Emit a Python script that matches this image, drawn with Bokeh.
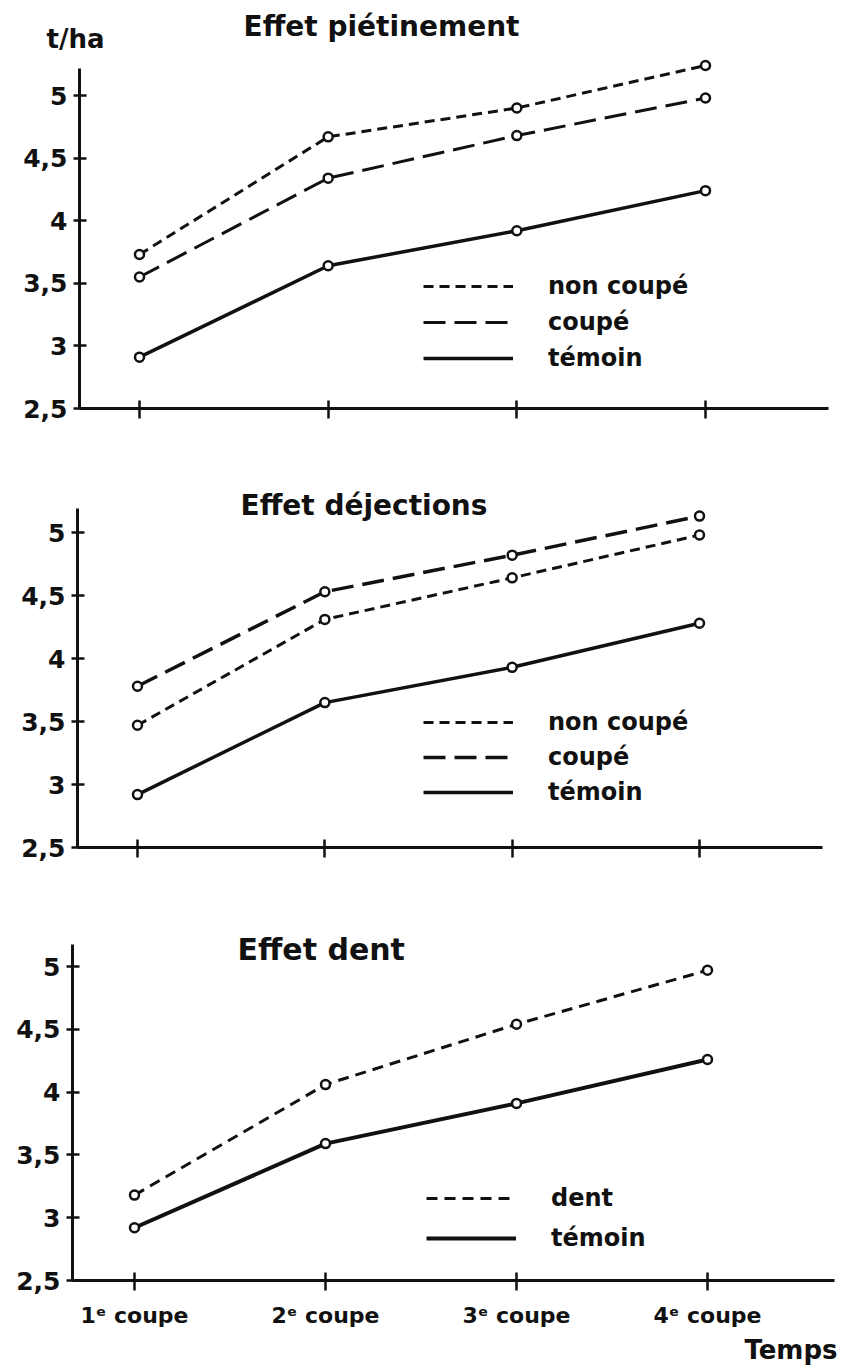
from bokeh.plotting import figure
from bokeh.models import (Range1d, FixedTicker, Legend, LegendItem, Label,
                          CustomLabelingPolicy)
from bokeh.layouts import column
from bokeh.embed import file_html
from bokeh.resources import INLINE

# ---------------- data ----------------
categories = ["1ᵉ coupe", "2ᵉ coupe", "3ᵉ coupe", "4ᵉ coupe"]
y_ticks = [2.5, 3, 3.5, 4, 4.5, 5]
y_tick_labels = ["2,5", "3", "3,5", "4", "4,5", "5"]

pietinement_non_coupe = [3.73, 4.67, 4.90, 5.24]
pietinement_coupe = [3.55, 4.34, 4.68, 4.98]
pietinement_temoin = [2.91, 3.64, 3.92, 4.24]

dejections_non_coupe = [3.47, 4.31, 4.64, 4.98]
dejections_coupe = [3.78, 4.53, 4.82, 5.13]
dejections_temoin = [2.92, 3.65, 3.93, 4.28]

dent_dent = [3.18, 4.06, 4.54, 4.97]
dent_temoin = [2.92, 3.59, 3.91, 4.26]

# ---------------- styling ----------------
FONT = "DejaVu Sans"
INK = "#111111"
SHORT_DASH = "10 6"
LONG_DASH = "22 9"
W = 841
xs = list(range(1, len(categories) + 1))


def make_panel(fig_top, height, axis_left, axis_right, tick1, tick4,
               y_low, y_high, axis_top, show_labels):
    """Pixel geometry (page coords) -> data ranges; axes drawn at fixed locations."""
    sx = (tick4 - tick1) / (xs[-1] - xs[0])
    sy = (y_low - y_high) / (y_ticks[-1] - y_ticks[0])
    fx = lambda px: xs[0] + (px - tick1) / sx
    fy = lambda py: y_ticks[0] + (y_low - py) / sy

    p = figure(
        width=W, height=height,
        x_range=Range1d(fx(0), fx(W)),
        y_range=Range1d(fy(fig_top + height), fy(fig_top)),
        output_backend="svg", toolbar_location=None, title=None,
        min_border=0, min_border_left=0, min_border_right=0,
        min_border_top=0, min_border_bottom=0,
    )
    p.outline_line_color = None
    p.background_fill_color = "white"
    p.border_fill_color = "white"
    p.xgrid.grid_line_color = None
    p.ygrid.grid_line_color = None

    ya = p.yaxis[0]
    ya.fixed_location = fx(axis_left)
    ya.bounds = (y_ticks[0], fy(axis_top))
    ya.ticker = FixedTicker(ticks=y_ticks)
    ya.major_label_overrides = {t: l for t, l in zip(y_ticks, y_tick_labels)}
    ya.minor_tick_line_color = None
    ya.axis_line_width = 3
    ya.axis_line_color = INK
    ya.major_tick_line_width = 2.5
    ya.major_tick_line_color = INK
    ya.major_tick_in = 7
    ya.major_tick_out = 6
    ya.major_label_standoff = 6
    ya.major_label_text_font = FONT
    ya.major_label_text_font_style = "bold"
    ya.major_label_text_font_size = "25px"
    ya.major_label_text_color = INK

    xa = p.xaxis[0]
    xa.fixed_location = y_ticks[0]
    xa.bounds = (fx(axis_left), fx(axis_right))
    xa.ticker = FixedTicker(ticks=xs)
    xa.major_label_overrides = {x: c for x, c in zip(xs, categories)}
    xa.minor_tick_line_color = None
    xa.axis_line_width = 3
    xa.axis_line_color = INK
    xa.major_tick_line_width = 2.5
    xa.major_tick_line_color = INK
    xa.major_tick_in = 8
    xa.major_tick_out = 10
    xa.major_label_standoff = 12
    xa.major_label_text_font = FONT
    xa.major_label_text_font_style = "bold"
    xa.major_label_text_font_size = "22px"
    xa.major_label_text_color = INK
    if not show_labels:
        xa.major_label_policy = CustomLabelingPolicy(code="return new Set()")
    return p, fx, fy


def add_series(p, vals, dash, width):
    r = p.line(xs, vals, line_color=INK, line_width=width, line_dash=dash)
    p.scatter(xs, vals, marker="circle", size=9, fill_color="white",
              line_color=INK, line_width=2.5)
    return r


def add_legend(p, items, loc, spacing):
    leg = Legend(
        items=[LegendItem(label=l, renderers=[r]) for l, r in items],
        location=loc, orientation="vertical",
        glyph_width=90, glyph_height=28, label_height=28,
        label_standoff=35, spacing=spacing, padding=0, margin=0,
        border_line_color=None, background_fill_alpha=0,
        label_text_font=FONT, label_text_font_size="24px",
        label_text_font_style="bold", label_text_color=INK,
    )
    p.add_layout(leg)


def add_text(p, fx, fy, px, py, text, size, align="left"):
    p.add_layout(Label(
        x=fx(px), y=fy(py), text=text,
        text_font=FONT, text_font_size=size, text_font_style="bold",
        text_color=INK, text_baseline="middle", text_align=align,
    ))


# ---------------- panel 1 : piétinement ----------------
p1, fx1, fy1 = make_panel(0, 440, 79, 828, 139, 705, 408, 95, 68, False)
r_nc = add_series(p1, pietinement_non_coupe, SHORT_DASH, 3)
r_c = add_series(p1, pietinement_coupe, LONG_DASH, 3)
r_t = add_series(p1, pietinement_temoin, "solid", 3.5)
add_legend(p1, [("non coupé", r_nc), ("coupé", r_c), ("témoin", r_t)], (423, 68), 8)
add_text(p1, fx1, fy1, 243, 26, "Effet piétinement", "28px")
add_text(p1, fx1, fy1, 46, 38, "t/ha", "26px")

# ---------------- panel 2 : déjections ----------------
p2, fx2, fy2 = make_panel(440, 440, 77, 822, 137, 699, 847, 532, 508, False)
r_nc2 = add_series(p2, dejections_non_coupe, SHORT_DASH, 3)
r_c2 = add_series(p2, dejections_coupe, LONG_DASH, 3.5)
r_t2 = add_series(p2, dejections_temoin, "solid", 3.5)
add_legend(p2, [("non coupé", r_nc2), ("coupé", r_c2), ("témoin", r_t2)], (423, 74), 7)
add_text(p2, fx2, fy2, 240, 505, "Effet déjections", "28px")

# ---------------- panel 3 : dent ----------------
p3, fx3, fy3 = make_panel(880, 490, 72, 834, 134, 707, 1280, 966, 944, True)
r_d3 = add_series(p3, dent_dent, "11 7", 3)
r_t3 = add_series(p3, dent_temoin, "solid", 4)
add_legend(p3, [("dent", r_d3), ("témoin", r_t3)], (426, 118), 12)
add_text(p3, fx3, fy3, 237, 949, "Effet dent", "30px")
add_text(p3, fx3, fy3, 837, 1349, "Temps", "26px", align="right")

layout = column(p1, p2, p3, spacing=0)
open("out.html", "w").write(file_html(layout, INLINE))
